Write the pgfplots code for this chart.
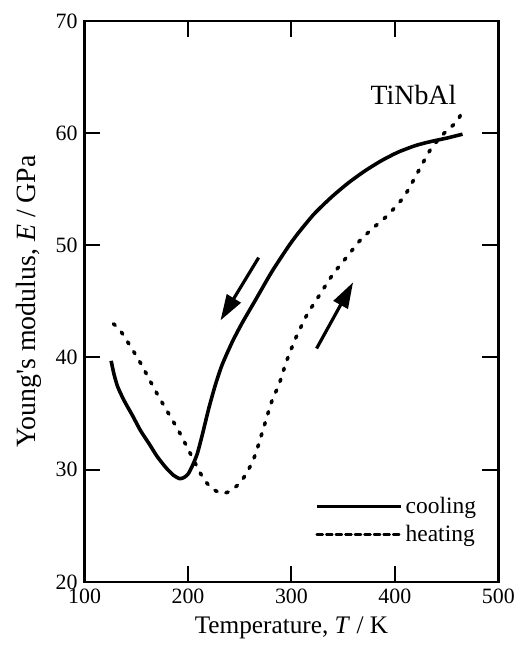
\documentclass[border=0pt]{standalone}
\usepackage{pgfplots}
\pgfplotsset{compat=1.18}
\usepackage{fontspec}
\setmainfont{Liberation Serif}
\usetikzlibrary{arrows.meta}
\begin{document}
\begin{tikzpicture}
\begin{axis}[
  name=ax,
  scale only axis,
  width=208pt, height=282pt,
  xmin=100, xmax=500, ymin=20, ymax=70,
  xtick={100,200,300,400,500},
  ytick={20,30,40,50,60,70},
  minor tick num=0,
  tick align=inside,
  major tick length=8pt,
  tick style={line width=1pt, black},
  axis line style={line width=1.3pt},
  /pgf/number format/assume math mode=true,
  ticklabel style={font=\fontsize{11}{13}\selectfont},
  xlabel style={font=\fontsize{12.7}{15}\selectfont},
  ylabel style={font=\fontsize{14}{16}\selectfont},
  xlabel={Temperature, \textit{T} / K},
  ylabel={Young\textquotesingle s modulus, \textit{E} / GPa},
  legend style={draw=none, fill=none, at={(axis cs:487.5,28.24)}, anchor=north east,
    font=\fontsize{11.8}{13}\selectfont, row sep=1.5pt,
    nodes={inner sep=1.5pt}},
  legend cell align=left,
]
\addplot[black, line width=1.8pt, smooth, tension=0.4,
  legend image code/.code={\draw[black, line width=1.3pt] (0pt,0pt) -- (42.5pt,0pt);}]
coordinates {
(125.7,39.7) (128.5,38.5) (132,37.4) (138,36.2) (146.5,34.8) (154,33.5) (162.5,32.3)
(170,31.2) (178.5,30.2) (186,29.5)
(192,29.2) (196,29.3) (200,29.6) (204,30.3) (208.9,31.4) (213.8,33.1)
(220.2,35.5) (226.6,37.6) (233,39.35) (242.6,41.35) (252.2,43.05) (265.1,45.1)
(281.1,47.65) (297.1,49.9) (306.7,51.1) (322,52.8) (338.8,54.3) (355,55.56)
(370.9,56.62) (387,57.54) (402.9,58.29) (420,58.89) (434.9,59.25) (450,59.55) (465.4,59.9)
};
\addlegendentry{cooling}
\addplot[black, line width=1.8pt, smooth, tension=0.4, line cap=round,
  dash pattern=on 1.2pt off 4.6pt,
  legend image code/.code={\draw[black, line width=1.3pt, dash pattern=on 3pt off 1.8pt] (0pt,0pt) -- (42.5pt,0pt);}]
coordinates {
(127.9,43.0) (135.3,42.3) (152.9,39.7) (170.5,36.7) (191.3,33.4) (207.4,30.5)
(215,29.2) (223.4,28.3) (233,27.9) (241,28.1) (250,28.8) (256,29.6) (261.8,30.6)
(266,31.6) (272,33.4) (281,36.1) (288,37.6) (295,39.6) (304,41.7) (315,43.8) (326,45.4)
(340,47.4) (354.8,49.1) (366,50.4) (377.2,51.4) (393.3,52.7) (409.3,54.4)
(422.1,56.5) (434.9,58.6) (447.8,60.0) (460.6,61.1) (466,62.2)
};
\addlegendentry{heating}
\node[font=\fontsize{14}{16}\selectfont] at (axis cs:418,63.4) {TiNbAl};
\draw[line width=1.6pt, -{Triangle[length=13pt,width=8pt]}] (axis cs:268.3,48.9) -- (axis cs:231.4,43.3);
\draw[line width=1.6pt, -{Triangle[length=13pt,width=8pt]}] (axis cs:324.3,40.8) -- (axis cs:359.6,46.7);
\end{axis}
\path ([shift={(-42.5pt,-30.5pt)}]ax.south west) rectangle ([shift={(12pt,10.5pt)}]ax.north east);
\end{tikzpicture}
\end{document}
